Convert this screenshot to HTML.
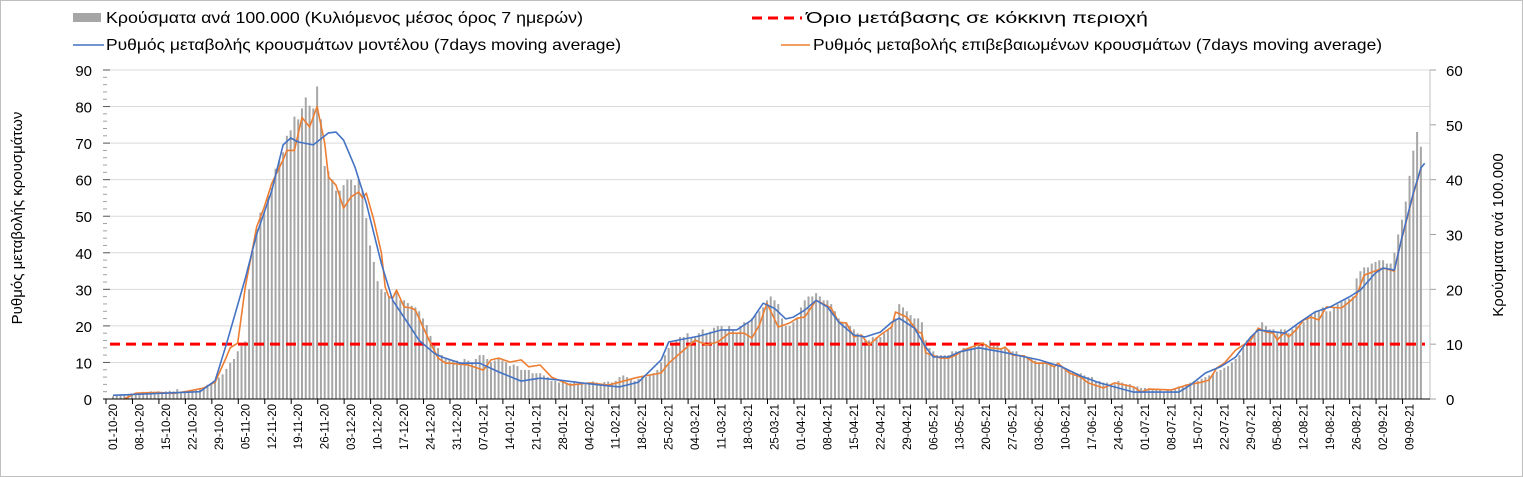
<!DOCTYPE html>
<html><head><meta charset="utf-8">
<style>
html,body{margin:0;padding:0;background:#fff;}
svg{display:block;font-family:"Liberation Sans","DejaVu Sans",sans-serif;}
</style></head>
<body>
<svg id="chart" width="1523" height="477" viewBox="0 0 1523 477" xmlns="http://www.w3.org/2000/svg">
<rect x="0.5" y="0.5" width="1522" height="476" fill="#fff" stroke="#bfbfbf"/>
<g id="grid"></g>
<g id="bars"></g>
<g id="lines"></g>
<g id="axes"></g>
<g font-size="16" fill="#000">
  <rect x="73" y="13" width="28" height="9" fill="#a6a6a6"/>
  <text x="106" y="23" textLength="477" lengthAdjust="spacingAndGlyphs">Κρούσματα ανά 100.000 (Κυλιόμενος μέσος όρος 7 ημερών)</text>
  <line x1="752" y1="18" x2="802" y2="18" stroke="#ff0000" stroke-width="3" stroke-dasharray="10,6"/>
  <text x="806" y="23" textLength="342" lengthAdjust="spacingAndGlyphs">Όριο μετάβασης σε κόκκινη περιοχή</text>
  <line x1="73" y1="45" x2="104" y2="45" stroke="#4472c4" stroke-width="1.5"/>
  <text x="106" y="50" textLength="515" lengthAdjust="spacingAndGlyphs">Ρυθμός μεταβολής κρουσμάτων μοντέλου (7days moving average)</text>
  <line x1="781" y1="45" x2="810" y2="45" stroke="#ed7d31" stroke-width="1.5"/>
  <text x="813" y="50" textLength="569" lengthAdjust="spacingAndGlyphs">Ρυθμός μεταβολής επιβεβαιωμένων κρουσμάτων (7days moving average)</text>
</g>
<text transform="translate(22,218) rotate(-90)" text-anchor="middle" font-size="15">Ρυθμός μεταβολής κρουσμάτων</text>
<text transform="translate(1503,235) rotate(-90)" text-anchor="middle" font-size="15">Κρούσματα ανά 100.000</text>
</svg>
<script>
const dateLabels = ["01-10-20","08-10-20","15-10-20","22-10-20","29-10-20","05-11-20","12-11-20","19-11-20","26-11-20","03-12-20","10-12-20","17-12-20","24-12-20","31-12-20","07-01-21","14-01-21","21-01-21","28-01-21","04-02-21","11-02-21","18-02-21","25-02-21","04-03-21","11-03-21","18-03-21","25-03-21","01-04-21","08-04-21","15-04-21","22-04-21","29-04-21","06-05-21","13-05-21","20-05-21","27-05-21","03-06-21","10-06-21","17-06-21","24-06-21","01-07-21","08-07-21","15-07-21","22-07-21","29-07-21","05-08-21","12-08-21","19-08-21","26-08-21","02-09-21","09-09-21"];
const leftTicks = [0,10,20,30,40,50,60,70,80,90];
const rightTicks = [0,10,20,30,40,50,60];
const threshold = 15;
const casesPer100k = [
0.5,0.6,0.7,0.8,0.9,1.0,1.1, 1.2,1.3,1.3,1.4,1.3,1.4,1.3, 1.4,1.5,1.4,1.8,1.3,1.4,1.5,
1.6,1.7,1.9,2.1,2.6,2.9,3.3, 3.9,4.5,5.5,6.6,7.3,8.7,9.7, 10.5,20,27,31,34,34,37,
38.5,42,43.5,45,48,49,51.5, 51,53,55,53.5,53,57,51, 42.5,41.5,40,38,38,39,40,
40,39,40,38,33,28,25, 21.5,20,19.5,18.7,18,19.5,18, 18,17.5,17,16.7,16,14.7,13.5,
11.5,10,9.3,8,7.3,7.3,7, 7,6.7,7.3,7,6.7,7.3,8, 8,7.3,6.7,7,7.3,7,6.7,
6,6.3,6,5.3,5.3,5.3,4.7, 4.7,4.7,4.3,4,3.3,3.3,3, 3,3,2.9,3,2.8,2.7,2.7,
3,3.2,3,2.8,3.1,3.2,3, 3.3,4,4.3,4,3.7,3.3,3.7, 4,4,4.3,4.7,5.3,6.7,8,
9.3,10,10.7,11.3,11.3,12,11.3, 11.3,12,12.7,12,12.3,13,13.3, 13.3,12.7,13.3,12.7,12,13.3,14,
14,14.7,15.3,16,16.7,18,18.7, 18,17.3,14.7,13.3,13.3,14,14.7, 16.7,18,18.7,18.7,19.3,18.7,18,
18,17.3,16,14.7,14,14,13.3, 12.7,12,11.3,10.7,10.7,11.3,11.3, 11.3,12,12.7,13.3,14.7,17.3,16.7,
16,15.3,14.7,14.7,14,10.7,9.3, 8.7,8,8,8,8,8.7,8.7, 8.7,9.3,9.3,9.3,10,10,10,
10,10.7,10,10,9.3,9.3,9, 8.7,8.7,8,8,7.3,7.3,7, 6.7,6.7,6.7,6.3,6,6,5.7,
5.3,5.3,5,4.7,4.7,4.3,4, 4,3.3,3.3,3,3,2.7,2.7, 3.3,3,2.7,2.7,2.3,2.3,2,
2,1.7,1.7,1.7,1.7,1.3,1.7, 1.7,2,2.3,2.3,2.7,3,3.3, 3.3,3.7,4,4.3,4.7,5,5.3,
5.7,6,6.7,7.3,8,9.3,10.7, 11.3,12,12.7,14,13.3,12.7,12.7, 12,12.7,12.7,12,12.7,13.3,13.3,
14,14.7,15.3,16,16,16.7,16, 16,16.7,17.3,17.7,18,18.3,18.7, 22,23.3,24,24,24.7,25,25.3,
25.3,24.7,24.7,26.7,30,32.7,36, 40.7,45.3,48.7,46];
const modelDays = [0,23,27,30,35,38,42,45,47,49,53,57,59,61,64,67,71,74,78,81,85,87,92,97,102,108,113,118,124,129,134,139,145,147,151,155,161,165,169,172,175,178,180,183,186,189,192,196,199,203,206,208,212,215,217,221,224,229,235,240,245,251,256,261,270,282,285,289,293,297,301,303,310,314,318,322,327,330,334,336,339,341,344,346,347];
const modelRate = [1,2,5,15,33,45,57,69.5,71.4,70.3,69.5,72.8,73,70.8,63.5,53.6,37,27,20.8,16,12.5,11.5,9.8,9.8,7.4,4.9,5.7,5.2,4.4,3.8,3.3,4.6,10.7,15.6,16.4,17.2,18.9,18.9,21.6,26.2,24.8,21.9,22.4,24.3,27,25.2,21,17.5,17,18.3,21,22.1,19.4,14.2,11.5,11.5,12.9,14,12.9,11.8,10.7,8.8,6.3,4.4,1.9,1.9,3.8,7.1,8.8,11.5,17,18.9,18,21,23.8,25.2,27.9,29.8,34.5,35.8,35.3,44.3,56.3,63.2,64.5];
const confDays = [
3,6,12,16,20,24,27,30,31,33,
35,38,40,42,45,46,48,50,52,54,
56,57,59,61,63,65,66,67,69,71,
72,73,74,75,77,79,80,82,84,86,
88,89,94,98,100,102,105,108,110,113,
116,121,126,131,134,139,145,147,151,154,
157,160,163,167,169,171,173,176,179,181,
183,186,190,192,194,196,198,200,203,206,
207,210,213,214,215,219,221,223,225,230,
232,235,236,238,241,244,247,249,250,253,
256,258,262,265,270,272,274,280,284,288,
290,292,294,297,301,303,305,307,308,310,
311,313,315,317,319,321,325,327,329,331,
333,336,339,340,344,346];
const confRate = [
0,1.6,1.8,1.5,2.2,3,4.6,11.5,14,15.3,
30.6,47,52.5,59,65.4,68,68,77,74.4,80,
70,60.7,58.5,52.2,55.3,56.6,55,56.3,49,40,
30.6,27.9,27.6,29.8,25.2,24.9,24.3,19.7,15.3,11.2,
9.8,9.8,9.3,7.9,10.7,11.2,10.1,10.7,8.8,9.3,
6,3.8,4.4,3.8,4.6,6,7.1,9.8,13.4,16.1,
14.8,15.6,18,18,16.7,20.2,26.2,19.7,20.8,22.1,
22.4,27,24.9,21,20.8,17,17.5,14.8,17.5,19.7,
23.8,22.4,18.3,18,12.6,11.2,11.2,12,13.4,15.3,
14,13.7,14.2,12,11.8,9.8,9.8,8.8,9.8,7.1,
6,4.4,3,4.4,3.3,1.9,2.7,2.5,3.8,4.6,
5.2,8.5,9.8,13.4,16.1,19.4,18.3,18,16.1,18.3,
17,18.9,21.6,22.4,21.6,25.2,24.9,26.5,28.4,33.9,
34.7,35.8,35,40,56,63];

const NS = "http://www.w3.org/2000/svg";
const X0 = 113, DX = 3.78, Y0 = 399, YTOP = 70, PLOT_L = 105, PLOT_R = 1430;
function xDay(d){ return X0 + DX*d; }
function yLeft(v){ return Y0 - (Y0-YTOP)*v/90; }
function yRight(v){ return Y0 - (Y0-YTOP)*v/60; }
function mk(tag, attrs, parent){ const e=document.createElementNS(NS,tag); for(const k in attrs) e.setAttribute(k,attrs[k]); parent.appendChild(e); return e; }

const grid=document.getElementById('grid'), bars=document.getElementById('bars'), lines=document.getElementById('lines'), axes=document.getElementById('axes');

leftTicks.forEach(v=>{
  const y=yLeft(v);
  if(v>0){ const g=mk('line',{x1:PLOT_L,x2:PLOT_R,y1:y,y2:y,stroke:'#d9d9d9','stroke-width':1},grid);
    
     }
  const t=mk('text',{x:92,y:y+6,'text-anchor':'end','font-size':15},axes);
  t.textContent=v;
  
  
  mk('line',{x1:103,x2:110,y1:y,y2:y,stroke:'#595959'},axes);
  if(v<90){ for(let m=2;m<10;m+=2){ mk('line',{x1:103,x2:107,y1:yLeft(v+m),y2:yLeft(v+m),stroke:'#a0a0a0'},axes);} }
});
rightTicks.forEach(v=>{
  const y=yRight(v);
  const t=mk('text',{x:1446,y:y+6,'text-anchor':'start','font-size':15},axes);
  t.textContent=v;
  
  
  mk('line',{x1:1430,x2:1436,y1:y,y2:y,stroke:'#a0a0a0'},axes);
});
mk('line',{x1:PLOT_R,x2:PLOT_R,y1:YTOP,y2:Y0,stroke:'#bfbfbf'},axes);

casesPer100k.forEach((v,i)=>{
  const y=yRight(v);
  const b=mk('rect',{x:xDay(i)-1,y:y,width:2,height:Y0-y,fill:'#a6a6a6'},bars);
  
  
});

const th=mk('line',{x1:110,x2:1425,y1:yLeft(threshold),y2:yLeft(threshold),stroke:'#ff0000','stroke-width':3,'stroke-dasharray':'10,6'},lines);



function poly(days,vals,color,name){
  const n=Math.min(days.length,vals.length);
  const pts=[];
  for(let i=0;i<n;i++) pts.push(xDay(days[i]).toFixed(1)+','+yLeft(vals[i]).toFixed(1));
  const p=mk('polyline',{points:pts.join(' '),fill:'none',stroke:color,'stroke-width':1.6,'stroke-linejoin':'round'},lines);
  
  
}
poly(confDays,confRate,'#ed7d31','confirmed-rate-line');
poly(modelDays,modelRate,'#4472c4','model-rate-line');

mk('line',{x1:103,x2:PLOT_R,y1:Y0,y2:Y0,stroke:'#000'},axes);
dateLabels.forEach((lab,k)=>{
  const x=xDay(7*k);
  mk('line',{x1:x-7,x2:x-7,y1:Y0,y2:Y0+5,stroke:'#000'},axes);
  const t=mk('text',{transform:`translate(${x+4},${Y0+5}) rotate(-90)`,'text-anchor':'end','font-size':11.5},axes);
  t.textContent=lab;
  
  
});
</script>
</body></html>
